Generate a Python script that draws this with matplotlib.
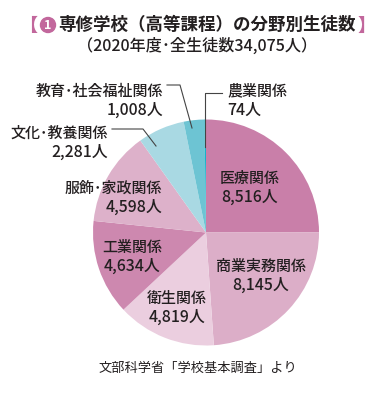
import matplotlib.pyplot as plt
from matplotlib.patches import Circle

plt.rcParams['font.family'] = ['Noto Sans CJK JP', 'DejaVu Sans']

# data (clockwise from top)
fields = ['医療関係', '商業実務関係', '衛生関係', '工業関係',
          '服飾･家政関係', '文化･教養関係', '教育･社会福祉関係', '農業関係']
students = [8516, 8145, 4819, 4634, 4598, 2281, 1008, 74]
colors = ['#c97fa9', '#dcaec8', '#ebcedf', '#cd88af',
          '#ddb1ca', '#a9d9e3', '#6dc4d3', '#16b3cb']

W, H = 381, 394
pink = '#c2679c'
dark = '#231f20'


def Y(py):
    return H - py


fig = plt.figure(figsize=(W / 100, H / 100), dpi=100)
ax = fig.add_axes([0, 0, 1, 1])
ax.pie(students, colors=colors, startangle=90, counterclock=False,
       center=(206, Y(232.5)), radius=113,
       wedgeprops=dict(linewidth=0))
ax.set_xlim(0, W)
ax.set_ylim(0, H)
ax.set_aspect('equal')
ax.axis('off')

# title
ax.text(28, Y(25), '【', color=pink, fontsize=13, fontweight='bold', ha='center', va='center')
ax.add_patch(Circle((48, Y(25)), 7.5, color=pink))
ax.text(48, Y(25.5), '1', color='white', fontsize=9, fontweight='bold', ha='center', va='center')
ax.text(58, Y(25), '専修学校（高等課程）の分野別生徒数', color=dark, fontsize=12.6,
        fontweight='bold', ha='left', va='center')
ax.text(366, Y(25), '】', color=pink, fontsize=13, fontweight='bold', ha='center', va='center')
ax.text(197, Y(46), '（2020年度･全生徒数34,075人）', color=dark, fontsize=11.6,
        fontweight='medium', ha='center', va='center')

# labels: (x, y, ha)
label_pos = [(250, 178, 'center'), (261, 266, 'center'), (177, 298, 'center'),
             (132, 247, 'center'), (162, 188, 'right'), (108, 133, 'right'),
             (163, 91, 'right'), (227, 91, 'left')]
for name, n, (x, y, ha) in zip(fields, students, label_pos):
    ax.text(x, Y(y), name, color=dark, fontsize=10.8, fontweight='medium',
            ha=ha, va='center')
    ax.text(x, Y(y + 19), f'{n:,}人', color=dark, fontsize=11.4, fontweight='medium',
            ha=ha, va='center')

# leader lines
ax.plot([112, 143, 156], [Y(129), Y(129), Y(146)], color='#444444', lw=0.8)
ax.plot([167, 180, 192], [Y(85), Y(85), Y(128)], color='#444444', lw=0.8)
ax.plot([222, 205, 205], [Y(93), Y(93), Y(147)], color='#444444', lw=0.8)

# source
ax.text(198, Y(368), '文部科学省「学校基本調査」より', color=dark, fontsize=9.5,
        ha='center', va='center')

fig.savefig('out.png', dpi=100)
